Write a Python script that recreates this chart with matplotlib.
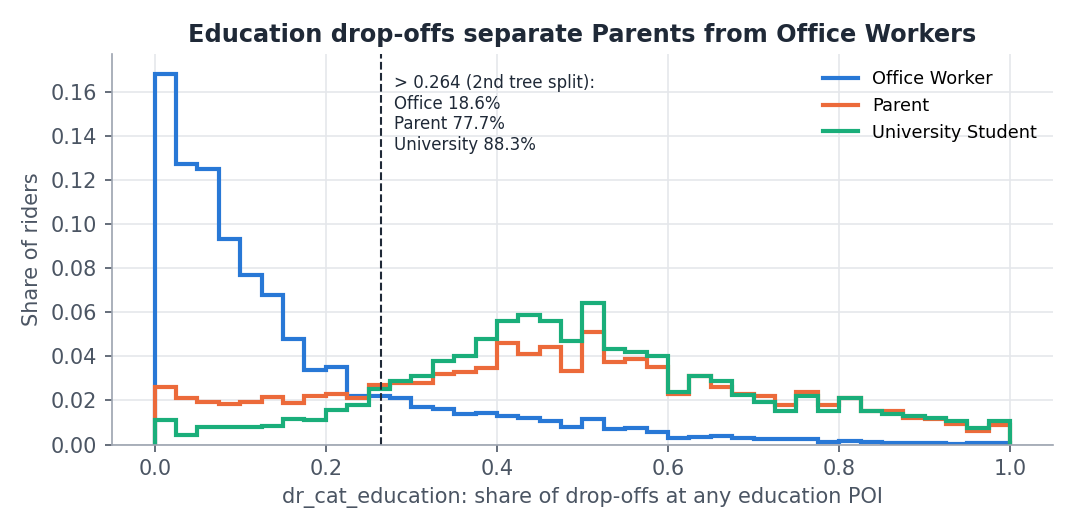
import numpy as np
import matplotlib.pyplot as plt

# share of riders per bin (40 bins over 0..1)
bin_edges = np.linspace(0, 1, 41)
office = [0.168, 0.127, 0.125, 0.093, 0.077, 0.068, 0.048, 0.034, 0.035, 0.022,
          0.022, 0.021, 0.017, 0.016, 0.014, 0.0145, 0.013, 0.012, 0.0105, 0.008,
          0.0115, 0.007, 0.0075, 0.0055, 0.003, 0.0035, 0.004, 0.003, 0.0025, 0.0025,
          0.0025, 0.001, 0.0015, 0.001, 0.0005, 0.0005, 0.0005, 0.0003, 0.0005, 0.0005]
parent = [0.026, 0.021, 0.0195, 0.0185, 0.0195, 0.0215, 0.019, 0.022, 0.023, 0.021,
          0.027, 0.028, 0.028, 0.032, 0.033, 0.0345, 0.046, 0.041, 0.044, 0.0335,
          0.051, 0.0375, 0.039, 0.035, 0.023, 0.031, 0.026, 0.023, 0.022, 0.018,
          0.024, 0.018, 0.021, 0.015, 0.015, 0.012, 0.0115, 0.0095, 0.006, 0.009]
university = [0.011, 0.0045, 0.008, 0.008, 0.008, 0.0085, 0.0115, 0.011, 0.0155, 0.018,
              0.025, 0.029, 0.031, 0.038, 0.040, 0.048, 0.056, 0.0585, 0.056, 0.047,
              0.064, 0.0435, 0.042, 0.040, 0.024, 0.031, 0.029, 0.0225, 0.0195, 0.015,
              0.022, 0.015, 0.021, 0.015, 0.014, 0.013, 0.012, 0.0105, 0.0075, 0.0105]
split = 0.264
split_text = "> 0.264 (2nd tree split):\nOffice 18.6%\nParent 77.7%\nUniversity 88.3%"

fig, ax = plt.subplots(figsize=(7.17, 3.54), dpi=150)
ax.stairs(office, bin_edges, color="#2878d6", lw=2, label="Office Worker")
ax.stairs(parent, bin_edges, color="#ec6a3a", lw=2, label="Parent")
ax.stairs(university, bin_edges, color="#1aae7a", lw=2, label="University Student")
ax.axvline(split, color="#1f2937", ls="--", lw=1)
ax.text(split + 0.016, 0.168, split_text, fontsize=8, color="#1f2937", va="top")

ax.set_xlim(-0.05, 1.05)
ax.set_ylim(0, 0.177)
ax.set_yticks(np.arange(0, 0.17, 0.02))
ax.grid(color="#e5e7eb", lw=0.8)
ax.set_axisbelow(True)
for s in ["top", "right"]:
    ax.spines[s].set_visible(False)
for s in ["left", "bottom"]:
    ax.spines[s].set_color("#9ca3af")
ax.tick_params(colors="#4b5563", labelsize=10)
ax.set_xlabel("dr_cat_education: share of drop-offs at any education POI", color="#4b5563", fontsize=10)
ax.set_ylabel("Share of riders", color="#4b5563", fontsize=10)
ax.set_title("Education drop-offs separate Parents from Office Workers", fontsize=11.5,
             fontweight="bold", color="#1f2937")
ax.legend(frameon=False, fontsize=8.5, loc="upper right")
fig.tight_layout()
fig.savefig("out.png")
